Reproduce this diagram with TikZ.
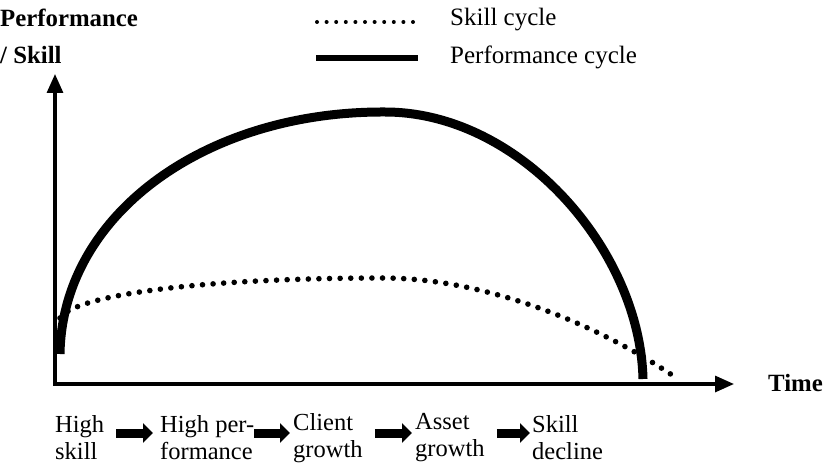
\documentclass[tikz,border=0pt]{standalone}
\usepackage{fontspec}
\setmainfont{Liberation Serif}
\usepackage{tikz}
\usetikzlibrary{arrows.meta}
\usetikzlibrary{positioning}
\tikzset{>=Triangle,
  axisline/.style={line width=3.2pt,-{Triangle[length=19pt,width=16pt]}},
  perfline/.style={line width=9pt},
  skilldots/.style={line width=5.6pt,line cap=round,dash pattern=on 0pt off 10.6pt},
  legdots/.style={line width=4pt,line cap=round,dash pattern=on 0pt off 9.6pt},
  stagearrow/.style={line width=9pt,-{Triangle[length=10pt,width=19pt]}},
  lbl/.style={font=\fontsize{25}{28}\selectfont,inner sep=0pt},
  boldlbl/.style={font=\fontsize{24.8}{28}\selectfont\bfseries,inner sep=0pt},
  stage/.style={font=\fontsize{24.5}{27}\selectfont,inner sep=0pt,align=left,anchor=west}}

\begin{document}
\begin{tikzpicture}[x=1pt,y=-1pt,line cap=butt]

  \useasboundingbox (0,0) rectangle (824,468);

  % axes
  \coordinate (origin) at (55,384);
  \coordinate (ytip) at (55,74);
  \coordinate (xtip) at (734,384);
  \draw [axisline] ([yshift=-1.6pt]origin) -- (ytip);
  \draw [axisline] ([xshift=-1.6pt]origin) -- (xtip);

  \node [boldlbl,anchor=west] (perf) at (0,18) {Performance};
  \node [boldlbl,anchor=west] (skl) at (0,55) {/ Skill};
  \node [boldlbl,anchor=east] (time) at (823,383) {Time};

  % legend
  \coordinate (l1a) at (317,22);
  \coordinate (l1b) at (417,22);
  \coordinate (l2a) at (316,58);
  \coordinate (l2b) at (418,58);
  \draw [legdots] (l1a) -- (l1b);
  \draw [line width=6pt] (l2a) -- (l2b);
  \node [lbl,anchor=west] (skillcyc) at (450,20) {Skill cycle};
  \node [lbl,anchor=west] (perfcyc) at (450,57) {Performance cycle};

  % skill cycle
  \coordinate (s0) at (60,318);
  \coordinate (s1) at (383,278);
  \coordinate (s2) at (672,375);
  \draw [skilldots] (s0) .. controls (75,295) and (200,278) .. (s1)
    .. controls (480,278) and (590,320) .. (s2);

  % performance cycle
  \coordinate (p0) at (60,354);
  \coordinate (p1) at (385,112);
  \coordinate (p2) at (643,379);
  \draw [perfline] (p0) .. controls (62,215) and (205,111) .. (p1)
    .. controls (520,112) and (640,250) .. (p2);

  % stages
  \node [stage] (hskill) at (55,438) {High\\skill};
  \node [stage] (hperf) at (160,438) {High per-\\formance};
  \node [stage] (client) at (293,438) {Client\\growth};
  \node [stage] (asset) at (415,438) {Asset\\growth};
  \node [stage] (decline) at (532,438) {Skill\\decline};

  \draw [stagearrow] ([xshift=12pt,yshift=5pt]hskill.east) -- ([xshift=-7pt,yshift=5pt]hperf.west);
  \draw [stagearrow] ([xshift=0pt,yshift=5pt]hperf.east) -- ([xshift=-3pt,yshift=5pt]client.west);
  \draw [stagearrow] ([xshift=12pt,yshift=5pt]client.east) -- ([xshift=-3pt,yshift=5pt]asset.west);
  \draw [stagearrow] ([xshift=12pt,yshift=5pt]asset.east) -- ([xshift=-2pt,yshift=5pt]decline.west);

\end{tikzpicture}
\end{document}
